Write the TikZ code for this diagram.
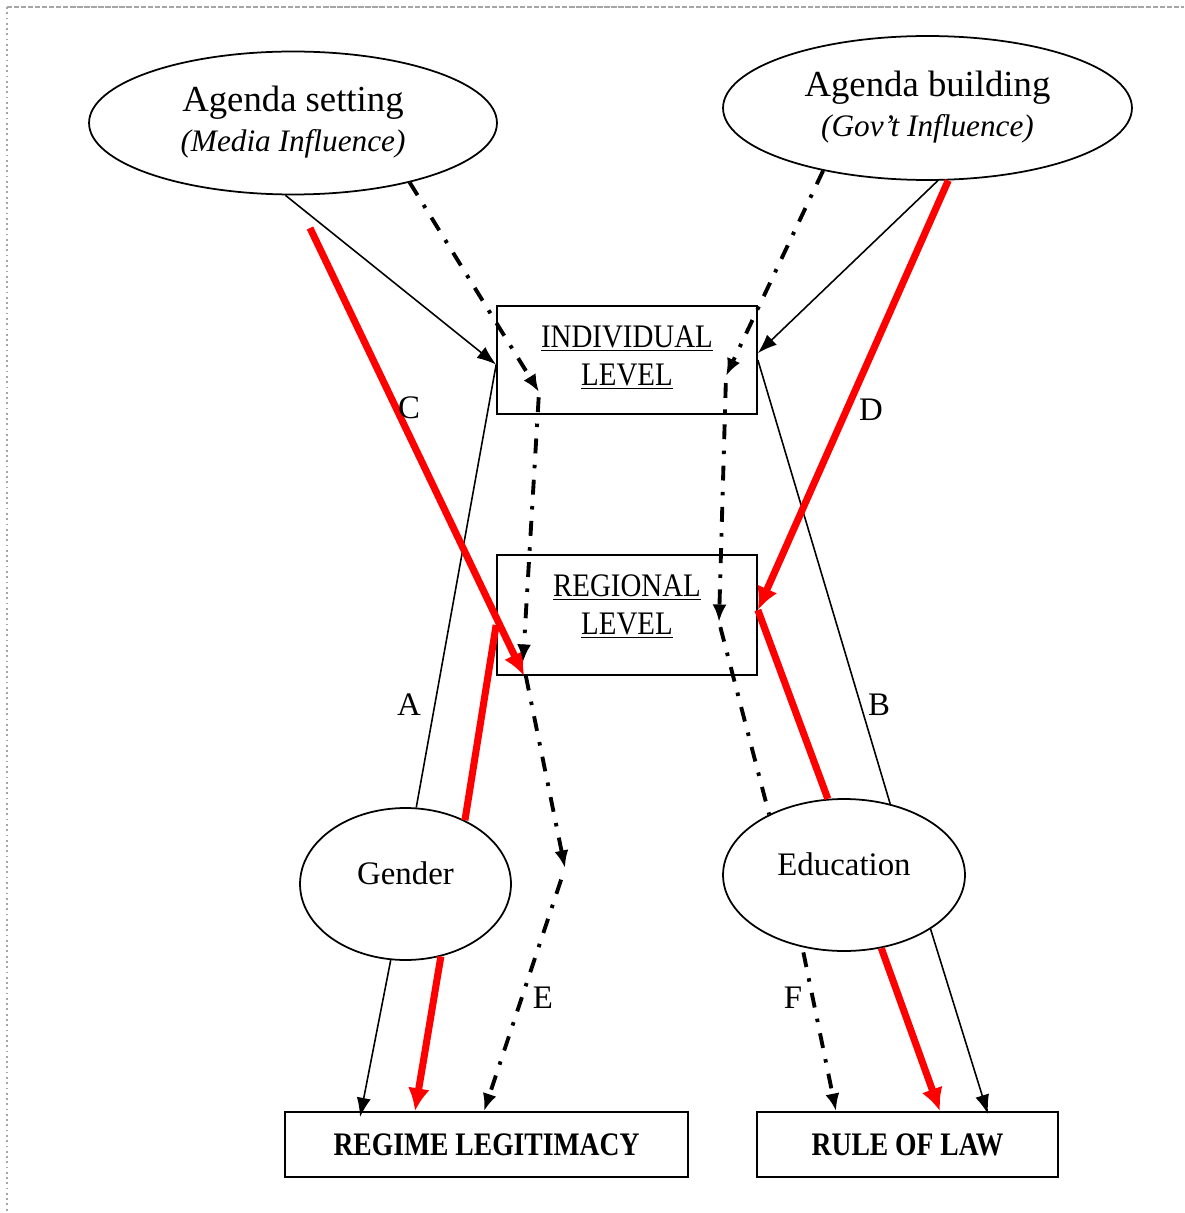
\documentclass[tikz,border=0pt]{standalone}
\usepackage{fontspec}
\setmainfont{Liberation Serif}
\newfontfamily\cam[FakeStretch=0.88]{Liberation Serif}
\newfontfamily\camb[FakeStretch=0.84]{Liberation Serif}
\usetikzlibrary{shapes.geometric,arrows.meta}
\tikzset{
  blk/.style={line width=0.9pt,-{Latex[length=11pt,width=8pt]}},
  plainline/.style={line width=0.9pt},
  redline/.style={red,line width=4pt},
  redarr/.style={redline,-{Latex[length=13pt,width=12.5pt]}},
  dd/.style={line width=2.2pt,dash pattern=on 8.5pt off 6.5pt on 2pt off 6.5pt},
  ddarr/.style={dd,-{Latex[length=10pt,width=8pt]}},
  ell/.style={ellipse,draw,line width=1pt,inner sep=0pt},
  lvlbox/.style={rectangle,draw,line width=1pt,minimum width=5.2cm,inner sep=0pt,align=center,font=\cam\fontsize{18.7}{21.5}\selectfont},
  outbox/.style={rectangle,draw,line width=1pt,minimum height=1.3cm,inner sep=0pt,font=\camb\bfseries\fontsize{18.7}{21.5}\selectfont},
  lab/.style={inner sep=0pt,font=\fontsize{18.7}{21.5}\selectfont}
}
\begin{document}
\begin{tikzpicture}[x=0.02cm,y=-0.02cm]
\useasboundingbox (0,0) rectangle (1184,1213);
% page border
\draw[gray!70,line width=0.7pt,dash pattern=on 3pt off 1pt] (7,7) -- (1184,7);
\draw[gray!70,line width=0.7pt,dash pattern=on 1pt off 2pt] (7,7) -- (7,1213);

% nodes
\node[ell,minimum width=8.16cm,minimum height=2.86cm,align=center,text depth=5pt] (as) at (293,123)
  {\fontsize{20.9}{21.5}\selectfont Agenda setting\\[4.5pt]\fontsize{17.8}{21.5}\selectfont\itshape (Media Influence)};
\node[ell,minimum width=8.18cm,minimum height=2.88cm,align=center,text depth=5pt] (ab) at (927.5,108)
  {\fontsize{20.9}{21.5}\selectfont Agenda building\\[4.5pt]\fontsize{17.8}{21.5}\selectfont\itshape (Gov’t Influence)};
\node[lvlbox,minimum height=2.16cm,text depth=5pt] (ind) at (627,360) {\underline{INDIVIDUAL}\\\underline{LEVEL}};
\node[lvlbox,minimum height=2.4cm,text depth=12pt] (rgl) at (627,615) {\underline{REGIONAL}\\\underline{LEVEL}};
\node[ell,minimum width=4.22cm,minimum height=3.04cm,font=\fontsize{18.7}{21.5}\selectfont,text depth=12.5pt] (gen) at (405.5,884) {Gender};
\node[ell,minimum width=4.84cm,minimum height=3.04cm,font=\fontsize{18.7}{21.5}\selectfont,text depth=12.5pt] (ed) at (844,875) {Education};
\node[outbox,minimum width=8.06cm] (rl) at (486.5,1144.5) {REGIME LEGITIMACY};
\node[outbox,minimum width=6.02cm] (rol) at (907.5,1144.5) {RULE OF LAW};

% thin black connectors (A, B)
\draw[blk] (as.-96) -- (ind.182.6);
\draw[blk] (ab.-82.5) -- (ind.3.1);
\draw[plainline] (ind.182.6) -- (gen.82);
\draw[blk] (gen.-101.5) -- ([xshift=-2.53cm,yshift=-0.12cm]rl.north);
\draw[plainline] (ind.east) -- (ed.57);
\draw[blk] (ed.-32.6) -- ([xshift=1.61cm,yshift=-0.06cm]rol.north);

% red connectors (C, D)
\coordinate (cs) at (310,228);
\draw[redarr] (cs) -- ([xshift=0.56cm]rgl.south west);
\draw[redarr] (ab.-74.1) -- ([yshift=0.1cm]rgl.east);
\draw[redline] ([yshift=-0.2cm]rgl.west) -- (gen.47.6);
\draw[redarr] (gen.-64.1) -- ([xshift=-1.43cm]rl.north);
\draw[redline] ([yshift=0.1cm]rgl.east) -- (ed.102);
\draw[redarr] (ed.-63.7) -- ([xshift=0.65cm]rol.north);

% dash-dotted connectors (E, F)
\coordinate (e1) at (539,392);
\coordinate (e2) at (523,662);
\coordinate (e3) at (565,868);
\draw[ddarr] (as.-27) -- (e1);
\draw[ddarr,shorten <=3pt] (e1) -- (e2);
\draw[ddarr,shorten <=8pt] (e2) -- (e3);
\draw[ddarr,shorten <=7pt] (e3) -- ([xshift=-0.05cm]rl.north);
\coordinate (f1) at (726,376);
\coordinate (f2) at (719,622);
\draw[ddarr] (ab.211.9) -- (f1);
\draw[ddarr,shorten <=4pt] (f1) -- (f2);
\draw[dd,shorten <=3pt] (f2) -- (ed.141);
\draw[ddarr,shorten <=3pt] (ed.-120.6) -- ([xshift=-1.43cm]rol.north);

% labels
\node[lab] (la) at (409,705) {A};
\node[lab] (lb) at (879,705) {B};
\node[lab] (lc) at (409,408) {C};
\node[lab] (ld) at (871,410) {D};
\node[lab] (le) at (543,998) {E};
\node[lab] (lf) at (793,998) {F};
\end{tikzpicture}
\end{document}
